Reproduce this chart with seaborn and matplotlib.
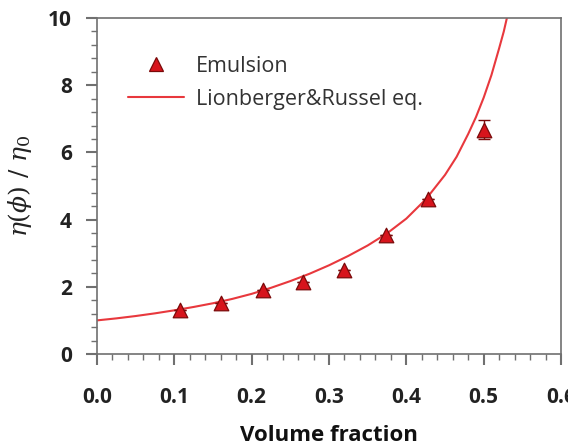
import matplotlib
matplotlib.use("Agg")
import matplotlib.pyplot as plt
import seaborn as sns
import pandas as pd
from matplotlib.ticker import MultipleLocator
from matplotlib.lines import Line2D

# Data
emul_phi = [0.107, 0.160, 0.214, 0.267, 0.320, 0.374, 0.428, 0.500]
emul_eta = [1.31, 1.52, 1.90, 2.14, 2.50, 3.54, 4.60, 6.67]
emul_err = [0, 0, 0, 0, 0, 0, 0, 0.28]

curve_phi = [0.0, 0.025, 0.05, 0.075, 0.10, 0.125, 0.15, 0.175, 0.20, 0.225,
             0.25, 0.275, 0.30, 0.325, 0.35, 0.375, 0.40, 0.425, 0.45, 0.465,
             0.48, 0.49, 0.50, 0.51, 0.52, 0.526, 0.531]
curve_eta = [1.00, 1.06, 1.13, 1.21, 1.30, 1.40, 1.51, 1.64, 1.79, 1.97,
             2.17, 2.39, 2.64, 2.92, 3.23, 3.59, 4.03, 4.60, 5.33, 5.87,
             6.55, 7.05, 7.63, 8.30, 9.10, 9.60, 10.1]

xticks = [0.0, 0.1, 0.2, 0.3, 0.4, 0.5, 0.6]
yticks = [0, 2, 4, 6, 8, 10]

sns.set_theme(style="white")
plt.rcParams['font.family'] = ['Open Sans', 'DejaVu Sans']
plt.rcParams['mathtext.fontset'] = 'dejavuserif'

fig = plt.figure(figsize=(5.68, 4.46), dpi=100)
ax = fig.add_axes([0.1708, 0.2063, 0.8169, 0.7533])

line_c = '#e8383d'
face_c = '#d7141c'
edge_c = '#7a0a0a'

df_curve = pd.DataFrame({'phi': curve_phi, 'eta': curve_eta})
df_emul = pd.DataFrame({'phi': emul_phi, 'eta': emul_eta})

sns.lineplot(data=df_curve, x='phi', y='eta', ax=ax, color=line_c, lw=1.5,
             zorder=2, legend=False)
ax.errorbar(emul_phi, emul_eta, yerr=emul_err, fmt='none', ecolor=edge_c,
            elinewidth=1.0, capsize=4, capthick=1.0, zorder=3)
sns.scatterplot(data=df_emul, x='phi', y='eta', ax=ax, marker='^', s=110,
                color=face_c, edgecolor=edge_c, linewidth=0.9, zorder=4,
                legend=False)

ax.set_xlim(0, 0.6)
ax.set_ylim(0, 10)
ax.set_xticks(xticks)
ax.set_yticks(yticks)
ax.set_xticklabels([f"{t:.1f}" for t in xticks])
ax.set_yticklabels([str(t) for t in yticks])
ax.xaxis.set_minor_locator(MultipleLocator(0.02))
ax.yaxis.set_minor_locator(MultipleLocator(0.4))

spine_c = '#707070'
for s in ax.spines.values():
    s.set_color(spine_c)
    s.set_linewidth(1.2)
ax.tick_params(which='major', direction='out', length=8, width=1.5,
               color=spine_c, labelsize=15, labelcolor='#222222', pad=10,
               bottom=True, left=True)
ax.tick_params(which='minor', direction='out', length=4, width=1.0,
               color=spine_c, bottom=True, left=True)
for lab in ax.get_xticklabels() + ax.get_yticklabels():
    lab.set_fontweight('bold')
ax.tick_params(axis='x', pad=16)

ax.set_xlabel('Volume fraction', fontsize=16, fontweight='bold',
              color='#111111', labelpad=12)
ax.set_ylabel(r'$\mathit{\eta(\phi)\ /\ \eta_0}$', fontsize=18,
              color='#222222', labelpad=10)

handles = [Line2D([], [], marker='^', ls='none', markersize=9.5,
                  markerfacecolor=face_c, markeredgecolor=edge_c,
                  markeredgewidth=0.9),
           Line2D([], [], color=line_c, lw=1.5)]
leg = ax.legend(handles, ['Emulsion', 'Lionberger&Russel eq.'],
                loc='upper left', bbox_to_anchor=(0.025, 0.945), frameon=False,
                fontsize=15.5, handlelength=2.6, handletextpad=0.55,
                labelspacing=0.55)
for t in leg.get_texts():
    t.set_color('#333333')

fig.savefig('out.png', dpi=100)
